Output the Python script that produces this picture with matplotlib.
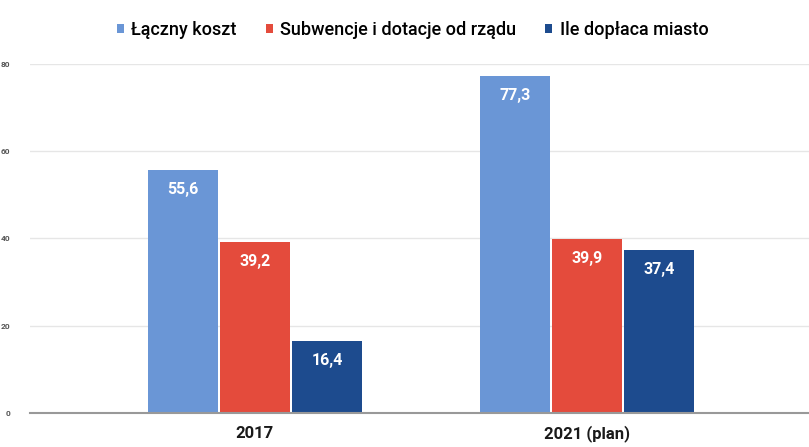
import matplotlib
matplotlib.use("Agg")
import matplotlib.pyplot as plt
import numpy as np

categories = ["2017", "2021 (plan)"]
series_names = ["Łączny koszt", "Subwencje i dotacje od rządu", "Ile dopłaca miasto"]
total_cost = [55.6, 77.3]
subsidies = [39.2, 39.9]
city_pays = [16.4, 37.4]
yticks = [0, 20, 40, 60, 80]

colors = ["#6a96d6", "#e44b3c", "#1d4b8e"]

plt.rcParams['font.family'] = ['Roboto', 'DejaVu Sans']
fig = plt.figure(figsize=(8.09, 4.47), dpi=100)
ax = fig.add_axes([0.037, 0.076, 0.963, 0.781])

x = np.arange(len(categories))
w = 0.211
step = 0.217
data = [total_cost, subsidies, city_pays]
for i, (vals, c, name) in enumerate(zip(data, colors, series_names)):
    bars = ax.bar(x + (i - 1) * step, vals, width=w, color=c, label=name, zorder=3)
    for b, v in zip(bars, vals):
        ax.annotate(f"{v:.1f}".replace(".", ","), (b.get_x() + b.get_width() / 2, v),
                    xytext=(0, -14), textcoords="offset points", ha="center", va="center",
                    color="white", fontsize=11.5, fontweight="bold", zorder=4)

ax.set_xlim(-0.678, 1.67)
ax.set_ylim(0, 80)
ax.set_yticks(yticks)
ax.set_yticklabels([str(t) for t in yticks], fontsize=6, color="#555555", fontweight="bold")
ax.set_xticks(x)
ax.set_xticklabels(categories, fontsize=12, fontweight="bold", color="#1a1a1a")
ax.tick_params(axis="both", length=0)
ax.tick_params(axis="y", pad=14)
ax.tick_params(axis="x", pad=9)
ax.grid(axis="y", color="#e6e6e6", linewidth=1, zorder=0)
for s in ["top", "right", "left"]:
    ax.spines[s].set_visible(False)
ax.spines["bottom"].set_color("#999999")
ax.spines["bottom"].set_linewidth(1.5)
ax.spines["bottom"].set_zorder(5)

leg = fig.legend(loc="upper center", bbox_to_anchor=(0.51, 0.99), ncol=3, frameon=False,
                 fontsize=13, handlelength=0.4, handleheight=0.4, handletextpad=0.4,
                 columnspacing=1.6, prop={'size': 13, 'weight': 'medium'})

fig.savefig("out.png", dpi=100)
